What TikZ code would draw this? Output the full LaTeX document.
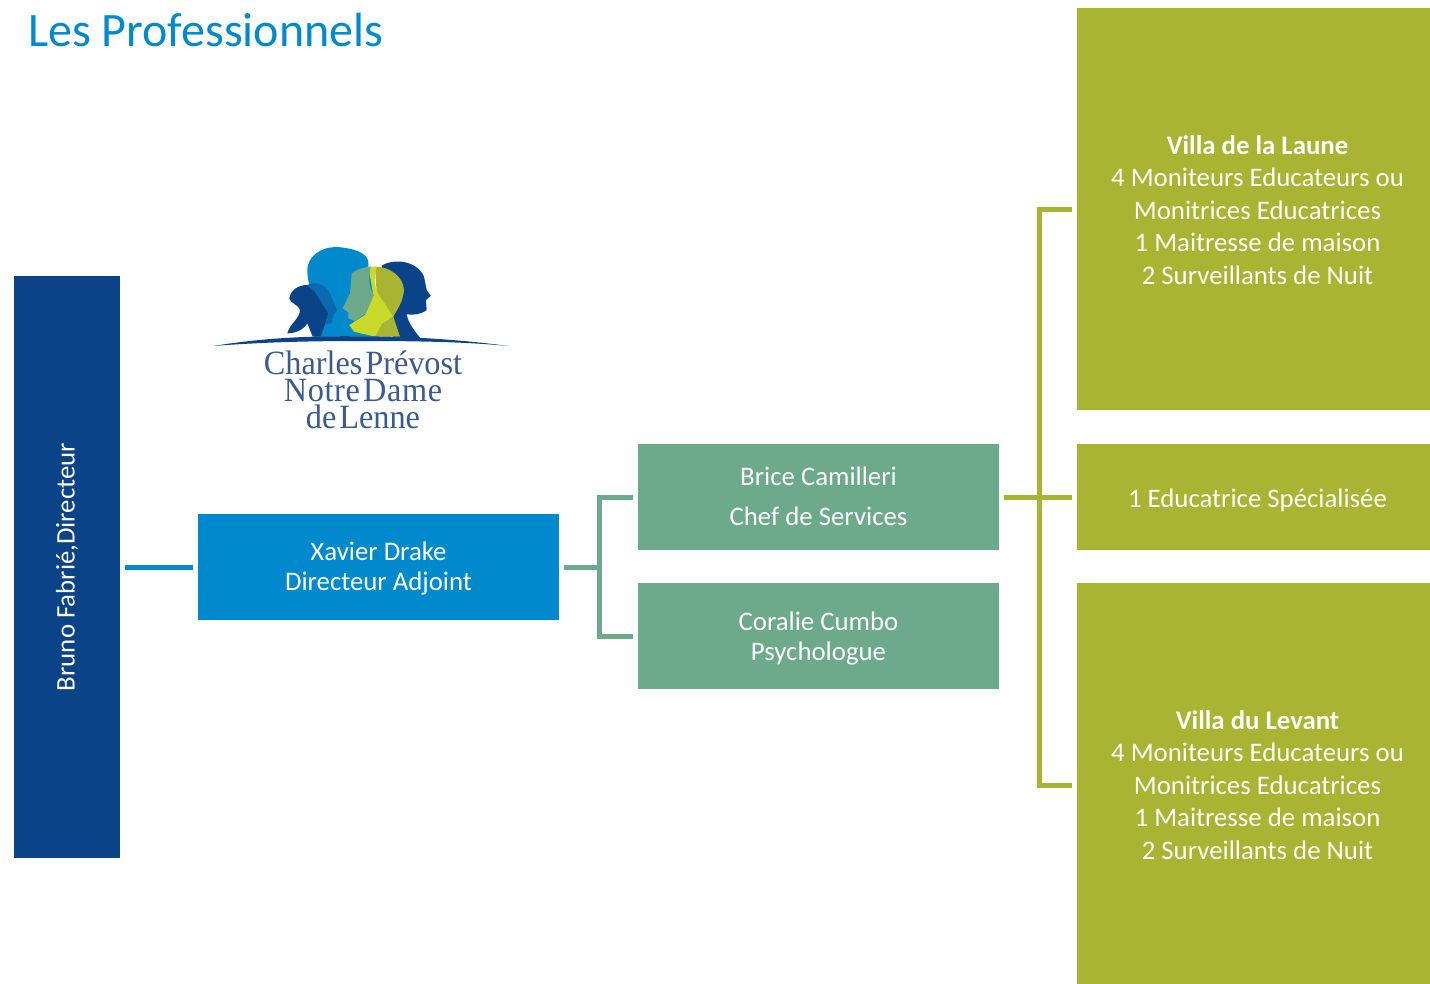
\documentclass[tikz,border=0pt]{standalone}
\usepackage{fontspec}
\setmainfont{Carlito}
\newfontfamily\logofont[WordSpace=0.35,FakeStretch=0.95]{Liberation Serif}
\usetikzlibrary{positioning}
\usetikzlibrary{calc}
\definecolor{navyblue}{HTML}{0B4388}
\definecolor{skyblue}{HTML}{008ACD}
\definecolor{sagegreen}{HTML}{6DA98B}
\definecolor{olivegreen}{HTML}{A8B432}
\definecolor{limegreen}{HTML}{CBD92B}
\definecolor{midblue}{HTML}{0A6AB0}
\definecolor{logotext}{HTML}{3A5A92}
\tikzset{
  box/.style={fill=#1,text=white,inner sep=0pt,align=center,minimum width=361pt,minimum height=106pt},
  link/.style={line width=5pt,draw=#1,shorten <=5pt,shorten >=5pt},
  bodytext/.style={font=\fontsize{26.8}{#1}\selectfont}
}
\begin{document}
\begin{tikzpicture}[x=1pt,y=-1pt]
\clip (0,0) rectangle (1430,983);
\fill[white] (0,0) rectangle (1430,983);

\node[anchor=west,text=skyblue,inner sep=0pt,font=\fontsize{48}{48}\selectfont] (title) at (28,30) {Les Professionnels};

\node[box=navyblue,minimum width=106pt,minimum height=582pt,bodytext=30] (bruno) at (67,567) {\rotatebox{90}{Bruno Fabrié,Directeur}};
\node[box=skyblue,bodytext=30] (xavier) at (378.5,567) {\rule{0pt}{21.6pt}Xavier Drake\\Directeur Adjoint};
\node[box=sagegreen,bodytext=40] (brice) at (818.5,497) {Brice Camilleri\\Chef de Services\rule[-2pt]{0pt}{2pt}};
\node[box=sagegreen,bodytext=30] (coralie) at (818.5,636) {\rule{0pt}{23.6pt}Coralie Cumbo\\Psychologue};
\node[box=olivegreen,minimum height=402pt,bodytext=32.5] (laune) at (1257.5,209) {\rule{0pt}{20.6pt}\textbf{Villa de la Laune}\\4 Moniteurs Educateurs ou\\Monitrices Educatrices\\1 Maitresse de maison\\2 Surveillants de Nuit};
\node[box=olivegreen,bodytext=30] (educ) at (1257.5,497) {\rule{0pt}{25.6pt}1 Educatrice Spécialisée};
\node[box=olivegreen,minimum height=404pt,bodytext=32.5] (levant) at (1257.5,785) {\textbf{Villa du Levant}\\4 Moniteurs Educateurs ou\\Monitrices Educatrices\\1 Maitresse de maison\\2 Surveillants de Nuit};

\coordinate (greenbus) at (599,567);
\coordinate (olivebus) at (1039,497);

\draw[link=skyblue] (bruno.east)--(xavier.west);
\draw[link=sagegreen,shorten >=0pt] (xavier.east)--(greenbus);
\draw[link=sagegreen] (brice.west)-|(greenbus)|-(coralie.west);
\draw[link=olivegreen] (brice.east)--(educ.west);
\draw[link=olivegreen] (laune.west)-|(olivebus)|-(levant.west);

\begin{scope}[shift={(200,235)},scale=1/3]
\fill[skyblue] (345,305) .. controls (350,200) and (320,150) .. (322,100)
  .. controls (330,50) and (380,30) .. (430,38)
  .. controls (480,45) and (510,60) .. (505,95)
  -- (530,200) -- (530,305) -- cycle;
\fill[navyblue] (545,92) .. controls (580,70) and (650,75) .. (672,125)
  -- (680,165) -- (692,182) -- (678,195) -- (680,225)
  .. controls (660,240) and (640,240) .. (620,238)
  .. controls (625,265) and (645,290) .. (662,310) -- (580,310) -- (560,200) -- cycle;
\fill[navyblue] (322,150) .. controls (295,150) and (272,165) .. (268,190)
  .. controls (270,205) and (298,210) .. (300,225)
  .. controls (300,250) and (270,265) .. (262,295)
  .. controls (285,295) and (310,285) .. (322,265)
  -- (338,305) -- (362,305) -- (375,268) -- (385,235) -- (345,170) -- cycle;
\fill[midblue] (322,150) .. controls (350,135) and (385,150) .. (398,195)
  -- (412,225) -- (400,240) -- (395,265) -- (375,268) -- (385,235) -- (345,170) -- cycle;
\fill[olivegreen] (525,95) .. controls (570,95) and (610,125) .. (612,165)
  .. controls (610,200) and (590,225) .. (580,245)
  -- (600,305) -- (525,305) -- (545,265) -- (580,245) -- (530,175) -- cycle;
\fill[limegreen] (505,95) -- (530,95) .. controls (520,130) and (525,165) .. (540,185)
  -- (580,245) -- (548,262) -- (525,305) -- (462,290) -- (448,270) -- (495,240) -- (520,180) -- cycle;
\fill[sagegreen] (455,115) .. controls (475,100) and (500,95) .. (512,95)
  .. controls (505,125) and (505,155) .. (522,180)
  -- (498,235) -- (465,258) -- (445,250) -- (445,232) -- (428,220) -- (450,175) -- cycle;
\fill[navyblue] (40,333) .. controls (180,310) and (320,302) .. (480,304)
  .. controls (640,304) and (790,315) .. (925,333)
  .. controls (790,320) and (640,318) .. (480,318)
  .. controls (320,318) and (180,322) .. (40,333) -- cycle;
\end{scope}

\node[text=logotext,inner sep=0pt,align=center,font=\logofont\fontsize{34}{27}\selectfont] (logo) at (363,390) {Charles Prévost\\{\addfontfeature{LetterSpace=2}Notre Dame}\\de Lenne};
\end{tikzpicture}
\end{document}
